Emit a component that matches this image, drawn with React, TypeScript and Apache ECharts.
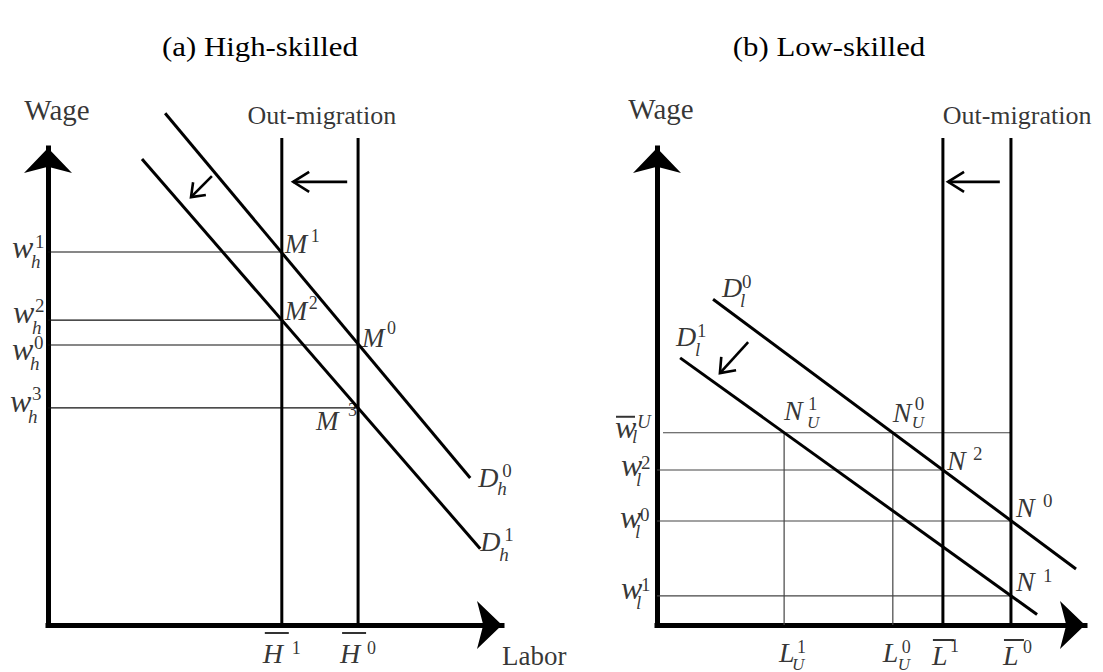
import React, { useEffect, useRef } from 'react';
import * as echarts from 'echarts';

// ---------- Panel (a) High-skilled ----------
const highLaborSupply = [51.5, 68.3]; // H̄^1, H̄^0
const highLaborLabels = ['1', '0'];
const highWages = [78.2, 63.9, 58.7, 45.5]; // w^1, w^2, w^0, w^3
const highWageLabels = ['1', '2', '0', '3'];
const highWageReach = [51.5, 51.5, 68.3, 68.3]; // supply line each wage line meets
const highDemand0 = [[25.8, 107.3], [93.0, 30.8]];
const highDemand1 = [[20.7, 97.7], [95.2, 16.0]];
const highShiftDemand = [36.1, 94.1, 31.5, 89.7];
const highShiftSupply = [65.9, 92.9, 54.0, 92.9];

// ---------- Panel (b) Low-skilled ----------
const lowLaborSupply = [66.8, 82.7]; // L̄^1, L̄^0
const lowLaborLabels = ['1', '0'];
const lowUnemployment = [29.7, 55.1]; // L_U^1, L_U^0
const lowUnempLabels = ['1', '0'];
const lowWages = [40.3, 32.5, 21.8, 6.1]; // w̄^U, w^2, w^0, w^1
const lowWageLabels = ['U', '2', '0', '1'];
const lowWageStart = [1.4, 0, 0, 0];
const lowWageReach = [82.7, 66.8, 82.7, 82.7];
const lowDemand0 = [[13.1, 68.3], [97.9, 11.75]];
const lowDemand1 = [[5.4, 56.0], [88.8, 2.2]];
const lowShiftDemand = [21.3, 59.3, 14.7, 52.8];
const lowShiftSupply = [80.1, 92.9, 68.0, 92.9];

const supplyTop = 102.1;
const axisMax = 100;

const FONT = '"Liberation Serif", "Times New Roman", serif';

type Piece = {
  at: number[];
  text: string;
  size: number;
  italic?: boolean;
  dx: number;
  dy: number;
  align?: string;
  bar?: number;
};

function toItem(p: Piece) {
  const label: any = {
    show: true,
    position: 'inside',
    align: p.align || 'left',
    verticalAlign: 'middle',
    offset: [p.dx, p.dy],
    fontFamily: FONT,
    fontSize: p.size,
    fontStyle: p.italic ? 'italic' : 'normal',
    color: '#000',
    formatter: p.bar ? '{b| }' : p.text,
  };
  if (p.bar) {
    label.rich = {
      b: { width: p.bar, height: 2, lineHeight: 2, fontSize: 2, backgroundColor: '#000' },
    };
  }
  return { value: p.at, label };
}

function labelSeries(grid: number, pieces: Piece[]) {
  return {
    type: 'scatter',
    xAxisIndex: grid,
    yAxisIndex: grid,
    symbolSize: 1,
    itemStyle: { color: 'rgba(0,0,0,0)' },
    clip: false,
    silent: true,
    z: 10,
    emphasis: { disabled: true },
    data: pieces.map(toItem),
  };
}

function seg(grid: number, data: number[][], width: number, color: string, extra: any = {}) {
  return {
    type: 'line',
    xAxisIndex: grid,
    yAxisIndex: grid,
    data,
    symbol: 'none',
    showSymbol: false,
    clip: false,
    silent: true,
    z: 3,
    lineStyle: { width, color },
    emphasis: { disabled: true },
    ...extra,
  };
}

// Arrow (shaft + open V head) drawn through the axes' own scales
function arrowSeries(grid: number, arrow: number[], headLen: number, headHalf: number) {
  return {
    type: 'custom',
    coordinateSystem: 'cartesian2d',
    xAxisIndex: grid,
    yAxisIndex: grid,
    silent: true,
    clip: false,
    z: 5,
    data: [arrow],
    renderItem: (_params: any, api: any) => {
      const a = api.coord([api.value(0), api.value(1)]);
      const b = api.coord([api.value(2), api.value(3)]);
      const dx = b[0] - a[0];
      const dy = b[1] - a[1];
      const len = Math.hypot(dx, dy) || 1;
      const ux = dx / len;
      const uy = dy / len;
      const px = -uy;
      const py = ux;
      const bx = b[0] - ux * headLen;
      const by = b[1] - uy * headLen;
      const left = [bx + px * headHalf, by + py * headHalf];
      const right = [bx - px * headHalf, by - py * headHalf];
      return {
        type: 'group',
        children: [
          {
            type: 'line',
            shape: { x1: a[0], y1: a[1], x2: b[0], y2: b[1] },
            style: { stroke: '#000', lineWidth: 2.6 },
          },
          {
            type: 'polyline',
            shape: { points: [left, [b[0], b[1]], right] },
            style: { stroke: '#000', lineWidth: 2.6, fill: null, lineJoin: 'miter' },
          },
        ],
      };
    },
  };
}

function axisPair(grid: number) {
  const line = {
    show: true,
    symbol: ['none', 'arrow'],
    symbolSize: [36, 25],
    lineStyle: { color: '#000', width: 5, cap: 'square' },
  };
  const common = {
    type: 'value', gridIndex: grid, min: 0, max: axisMax,
    axisLine: line, axisTick: { show: false }, axisLabel: { show: false }, splitLine: { show: false },
  };
  return { x: { ...common }, y: { ...common } };
}

function buildOption() {
  const series: any[] = [];

  // ---- Panel A lines ----
  series.push(seg(0, highDemand0, 3, '#000'));
  series.push(seg(0, highDemand1, 3, '#000'));
  highLaborSupply.forEach((s) => {
    series.push(seg(0, [[s, 0], [s, supplyTop]], 3, '#000'));
  });
  highWages.forEach((w, i) => {
    series.push(seg(0, [[0, w], [highWageReach[i], w]], 1.2, '#111', { z: 2 }));
  });
  series.push(arrowSeries(0, highShiftDemand, 12, 9));
  series.push(arrowSeries(0, highShiftSupply, 16, 10));

  // ---- Panel B lines ----
  series.push(seg(1, lowDemand0, 3, '#000'));
  series.push(seg(1, lowDemand1, 3, '#000'));
  lowLaborSupply.forEach((s) => {
    series.push(seg(1, [[s, 0], [s, supplyTop]], 3, '#000'));
  });
  lowWages.forEach((w, i) => {
    series.push(seg(1, [[lowWageStart[i], w], [lowWageReach[i], w]], 1.2, '#444', { z: 2 }));
  });
  lowUnemployment.forEach((u) => {
    series.push(seg(1, [[u, 0], [u, lowWages[0]]], 1.2, '#444', { z: 2 }));
  });
  series.push(arrowSeries(1, lowShiftDemand, 13, 10));
  series.push(arrowSeries(1, lowShiftSupply, 16, 10));

  // ---- Panel A labels ----
  const pa: Piece[] = [];
  const wOffA = [
    { m: [-36, -4.5], p: [-13, -10], s: [-17, 10] },
    { m: [-35, -8], p: [-13, -15], s: [-16, 7] },
    { m: [-36, 3.5], p: [-14, -3], s: [-18, 18] },
    { m: [-38, -7], p: [-16, -14], s: [-20, 9] },
  ];
  highWages.forEach((w, i) => {
    const o = wOffA[i];
    pa.push({ at: [0, w], text: 'w', size: 32, italic: true, dx: o.m[0], dy: o.m[1] });
    pa.push({ at: [0, w], text: highWageLabels[i], size: 19, dx: o.p[0], dy: o.p[1] });
    pa.push({ at: [0, w], text: 'h', size: 19, italic: true, dx: o.s[0], dy: o.s[1] });
  });
  const mOffA = [
    { m: [3, -8], p: [29, -16] },
    { m: [3, -9], p: [27, -17] },
    { m: [4, -7], p: [29, -17] },
    { m: [-42, 13], p: [-10, 2] },
  ];
  highWages.forEach((w, i) => {
    const o = mOffA[i];
    const at = [highWageReach[i], w];
    pa.push({ at, text: 'M', size: 27, italic: true, dx: o.m[0], dy: o.m[1] });
    pa.push({ at, text: highWageLabels[i], size: 18, dx: o.p[0], dy: o.p[1] });
  });
  const dA = [
    { at: highDemand0[1], sup: '0', m: [8, -1], p: [32, -8], s: [27, 10] },
    { at: highDemand1[1], sup: '1', m: [0, -7], p: [24, -14], s: [19, 6] },
  ];
  dA.forEach((o) => {
    pa.push({ at: o.at, text: 'D', size: 28, italic: true, dx: o.m[0], dy: o.m[1] });
    pa.push({ at: o.at, text: o.sup, size: 19, dx: o.p[0], dy: o.p[1] });
    pa.push({ at: o.at, text: 'h', size: 19, italic: true, dx: o.s[0], dy: o.s[1] });
  });
  const hOffA = [
    { m: [-19, 28], p: [10, 23] },
    { m: [-18, 28], p: [9, 23] },
  ];
  highLaborSupply.forEach((s, i) => {
    const o = hOffA[i];
    const at = [s, 0];
    pa.push({ at, text: '', size: 2, bar: 24, dx: o.m[0] + 2, dy: 8 });
    pa.push({ at, text: 'H', size: 28, italic: true, dx: o.m[0], dy: o.m[1] });
    pa.push({ at, text: highLaborLabels[i], size: 18, dx: o.p[0], dy: o.p[1] });
  });
  pa.push({ at: [0, axisMax], text: 'Wage', size: 29, dx: 9, dy: -38, align: 'center' });
  pa.push({
    at: [(highLaborSupply[0] + highLaborSupply[1]) / 2, axisMax],
    text: 'Out-migration', size: 26, dx: 2, dy: -33, align: 'center',
  });
  pa.push({ at: [axisMax, 0], text: 'Labor', size: 27, dx: 0, dy: 31 });

  // ---- Panel B labels ----
  const pb: Piece[] = [];
  const wOffB = [
    { m: [-42, -5.5], p: [-20, -11], s: [-25, 4] },
    { m: [-36, -4.5], p: [-16, -7], s: [-21, 10] },
    { m: [-37, -4.5], p: [-17, -7], s: [-22, 10] },
    { m: [-36, -7.5], p: [-16, -11], s: [-21, 7] },
  ];
  lowWages.forEach((w, i) => {
    const o = wOffB[i];
    const at = [0, w];
    if (i === 0) pb.push({ at, text: '', size: 2, bar: 19, dx: -41, dy: -16 });
    pb.push({ at, text: 'w', size: 32, italic: true, dx: o.m[0], dy: o.m[1] });
    pb.push({ at, text: lowWageLabels[i], size: 19, italic: i === 0, dx: o.p[0], dy: o.p[1] });
    pb.push({ at, text: 'l', size: 19, italic: true, dx: o.s[0], dy: o.s[1] });
  });
  const dB = [
    { at: lowDemand0[0], sup: '0', m: [9, -12], p: [29, -18], s: [27, 1] },
    { at: lowDemand1[0], sup: '1', m: [-4, -21], p: [17, -27], s: [15, -8] },
  ];
  dB.forEach((o) => {
    pb.push({ at: o.at, text: 'D', size: 28, italic: true, dx: o.m[0], dy: o.m[1] });
    pb.push({ at: o.at, text: o.sup, size: 19, dx: o.p[0], dy: o.p[1] });
    pb.push({ at: o.at, text: 'l', size: 19, italic: true, dx: o.s[0], dy: o.s[1] });
  });
  const nuOff = [
    { m: [0, -22], p: [24, -29], s: [23, -10] },
    { m: [0, -20], p: [22, -29], s: [19, -10] },
  ];
  lowUnemployment.forEach((u, i) => {
    const o = nuOff[i];
    const at = [u, lowWages[0]];
    pb.push({ at, text: 'N', size: 28, italic: true, dx: o.m[0], dy: o.m[1] });
    pb.push({ at, text: lowUnempLabels[i], size: 19, dx: o.p[0], dy: o.p[1] });
    pb.push({ at, text: 'U', size: 17, italic: true, dx: o.s[0], dy: o.s[1] });
  });
  const nOff = [
    null,
    { m: [4, -9], p: [30, -16] },
    { m: [5, -14], p: [32, -21] },
    { m: [5, -14], p: [32, -20] },
  ];
  lowWages.forEach((w, i) => {
    const o = nOff[i];
    if (!o) return;
    const at = [lowWageReach[i], w];
    pb.push({ at, text: 'N', size: 28, italic: true, dx: o.m[0], dy: o.m[1] });
    pb.push({ at, text: lowWageLabels[i], size: 19, dx: o.p[0], dy: o.p[1] });
  });
  const luOff = [
    { m: [-5, 27], p: [13, 22], s: [8, 39] },
    { m: [-10, 27], p: [9, 22], s: [5, 39] },
  ];
  lowUnemployment.forEach((u, i) => {
    const o = luOff[i];
    const at = [u, 0];
    pb.push({ at, text: 'L', size: 28, italic: true, dx: o.m[0], dy: o.m[1] });
    pb.push({ at, text: lowUnempLabels[i], size: 18, dx: o.p[0], dy: o.p[1] });
    pb.push({ at, text: 'U', size: 17, italic: true, dx: o.s[0], dy: o.s[1] });
  });
  const lbOff = [
    { m: [-11, 30], p: [7, 21], w: 21 },
    { m: [-8, 30], p: [12, 22], w: 20 },
  ];
  lowLaborSupply.forEach((s, i) => {
    const o = lbOff[i];
    const at = [s, 0];
    pb.push({ at, text: '', size: 2, bar: o.w, dx: o.m[0] + 1, dy: 15 });
    pb.push({ at, text: 'L', size: 28, italic: true, dx: o.m[0], dy: o.m[1] });
    pb.push({ at, text: lowLaborLabels[i], size: 18, dx: o.p[0], dy: o.p[1] });
  });
  pb.push({ at: [0, axisMax], text: 'Wage', size: 29, dx: 4, dy: -39, align: 'center' });
  pb.push({ at: [axisMax, axisMax], text: 'Out-migration', size: 26, dx: -68, dy: -33, align: 'center' });

  series.push(labelSeries(0, pa));
  series.push(labelSeries(1, pb));

  const a = axisPair(0);
  const b = axisPair(1);

  return {
    animation: false,
    backgroundColor: '#fff',
    grid: [
      { left: 48, top: 148, width: 454, height: 477 },
      { left: 657, top: 148, width: 428, height: 477 },
    ],
    xAxis: [a.x, b.x],
    yAxis: [a.y, b.y],
    graphic: [
      {
        type: 'text', x: 260, y: 46, scaleX: 1.1,
        style: { text: '(a) High-skilled', fontSize: 28, fontFamily: FONT, fill: '#000', align: 'center', verticalAlign: 'middle' },
      },
      {
        type: 'text', x: 829, y: 46, scaleX: 1.1,
        style: { text: '(b) Low-skilled', fontSize: 28, fontFamily: FONT, fill: '#000', align: 'center', verticalAlign: 'middle' },
      },
    ],
    series,
  };
}

export default function App() {
  const ref = useRef<HTMLDivElement>(null);
  useEffect(() => {
    if (!ref.current) return;
    const chart = echarts.init(ref.current, undefined, { renderer: 'svg' });
    chart.setOption(buildOption() as any);
    return () => chart.dispose();
  }, []);
  return (
    <div
      ref={ref}
      style={{ position: 'absolute', left: 0, top: 0, width: 1103, height: 672, background: '#fff' }}
    />
  );
}
